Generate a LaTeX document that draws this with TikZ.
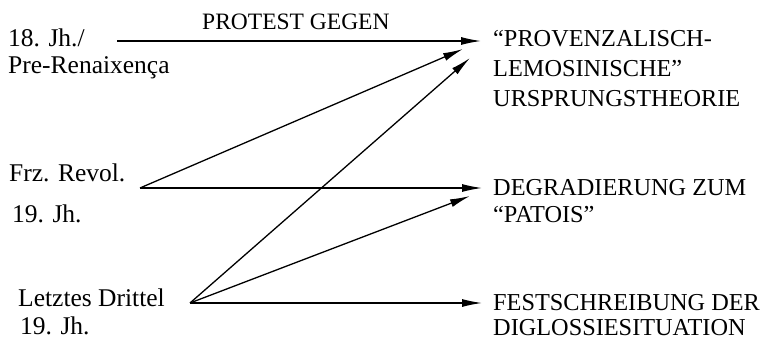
\documentclass[tikz,border=0pt]{standalone}
\usepackage{fontspec}
\setmainfont{Liberation Serif}
\usetikzlibrary{arrows.meta}
\begin{document}
\begin{tikzpicture}[x=1pt,y=-1pt,
  lbl/.style={anchor=base west,inner sep=0pt,font=\fontsize{25.5}{30}\selectfont},
  rlbl/.style={anchor=base west,inner sep=0pt,font=\fontsize{24.3}{30}\selectfont},
  conn/.style={line width=1.3pt,-{Latex[length=20pt,width=8pt]}}]
\useasboundingbox (0,0) rectangle (770,339);
% left labels
\node[lbl] (t1a) at (8,47) {18. Jh./};
\node[lbl] (t1b) at (8,74) {Pre-Renaixença};
\node[lbl] (t2a) at (9,182) {Frz. Revol.};
\node[lbl] (t2b) at (12,222) {19. Jh.};
\node[lbl] (t3a) at (18,306) {Letztes Drittel};
\node[lbl] (t3b) at (20,334) {19. Jh.};
\node[rlbl,font=\fontsize{23.5}{28}\selectfont] (pg) at (202,30) {PROTEST GEGEN};
% right labels
\node[rlbl] (r1a) at (493,47) {“PROVENZALISCH-};
\node[rlbl] (r1b) at (493,77) {LEMOSINISCHE”};
\node[rlbl] (r1c) at (493,107) {URSPRUNGSTHEORIE};
\node[rlbl] (r2a) at (493,195) {DEGRADIERUNG ZUM};
\node[rlbl] (r2b) at (493,222) {“PATOIS”};
\node[rlbl] (r3a) at (493,310) {FESTSCHREIBUNG DER};
\node[rlbl] (r3b) at (493,335) {DIGLOSSIESITUATION};
% connector ends
\coordinate (s1) at (117,41);
\coordinate (s2) at (140,188);
\coordinate (s3) at (190,303);
\coordinate (e1) at (481,41);
\coordinate (e1b) at (463,49);
\coordinate (e1c) at (470,58);
\coordinate (e2) at (482,188);
\coordinate (e2b) at (470,196);
\coordinate (e3) at (482,303);
\draw[conn] (s1) -- (e1);
\draw[conn] (s2) -- (e1b);
\draw[conn] (s2) -- (e2);
\draw[conn] (s3) -- (e1c);
\draw[conn] (s3) -- (e2b);
\draw[conn] (s3) -- (e3);
\end{tikzpicture}
\end{document}
